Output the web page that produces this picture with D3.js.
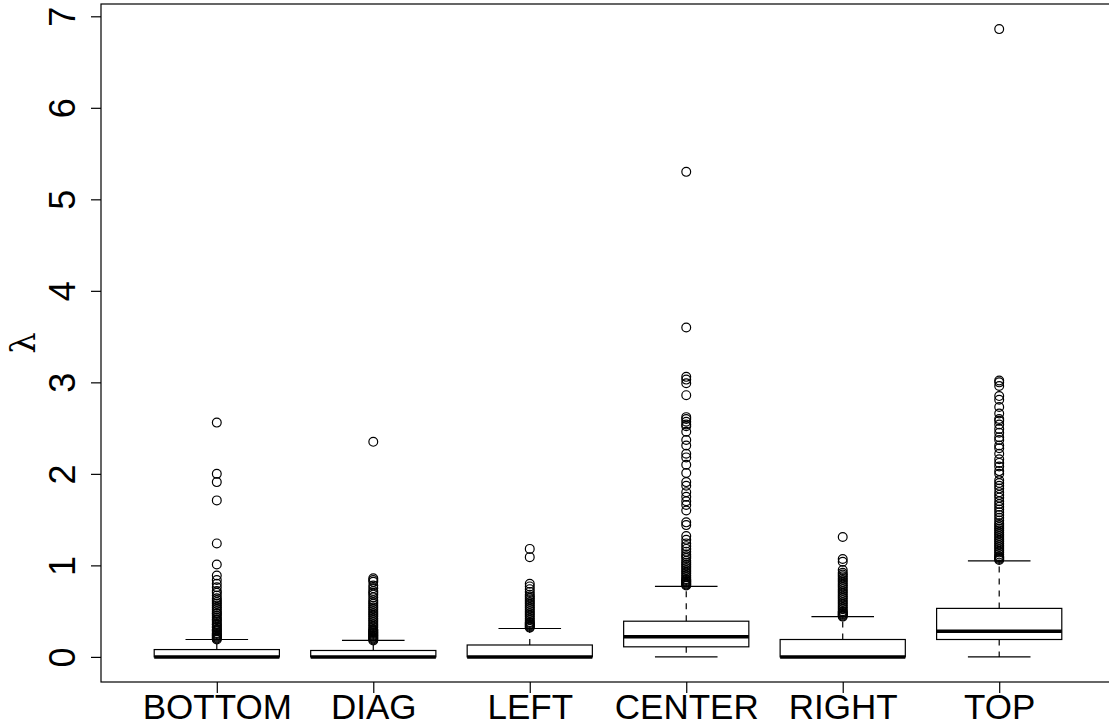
<!DOCTYPE html>
<html>
<head>
<meta charset="utf-8">
<script src="https://cdn.jsdelivr.net/npm/d3@7/dist/d3.min.js"></script>
<style>
  html, body { margin: 0; padding: 0; background: #fff; }
  svg { display: block; }
</style>
</head>
<body>
<script>
// ---- data ----
const categories = ["BOTTOM", "DIAG", "LEFT", "CENTER", "RIGHT", "TOP"];
const lowerWhisker = [0, 0, 0, 0, 0, 0];
const q1 = [0, 0, 0, 0.11, 0, 0.19];
const median = [0, 0, 0, 0.22, 0, 0.28];
const q3 = [0.08, 0.07, 0.13, 0.39, 0.19, 0.53];
const upperWhisker = [0.19, 0.18, 0.31, 0.77, 0.44, 1.05];

const outliersBottom = [2.56, 2.00, 1.91, 1.71, 1.24, 1.01, 0.89, 0.84, 0.80, 0.76, 0.72, 0.70, 0.67, 0.64, 0.62, 0.60, 0.58, 0.56, 0.54, 0.52, 0.50, 0.48, 0.47, 0.45, 0.43, 0.41, 0.40, 0.38, 0.36, 0.35, 0.33, 0.32, 0.30, 0.29, 0.28, 0.26, 0.25, 0.24, 0.23, 0.22, 0.21, 0.20, 0.19];
const outliersDiag = [2.35, 0.86, 0.84, 0.82, 0.78, 0.75, 0.72, 0.70, 0.68, 0.65, 0.62, 0.60, 0.58, 0.56, 0.54, 0.52, 0.50, 0.48, 0.46, 0.44, 0.42, 0.40, 0.38, 0.36, 0.34, 0.32, 0.30, 0.29, 0.28, 0.27, 0.26, 0.25, 0.24, 0.23, 0.22, 0.21, 0.20, 0.19, 0.18];
const outliersLeft = [1.18, 1.09, 0.80, 0.77, 0.74, 0.71, 0.68, 0.66, 0.64, 0.62, 0.60, 0.58, 0.56, 0.54, 0.52, 0.50, 0.48, 0.46, 0.44, 0.42, 0.40, 0.38, 0.37, 0.36, 0.35, 0.34, 0.33, 0.32];
const outliersCenter = [5.30, 3.60, 3.06, 3.03, 2.99, 2.86, 2.62, 2.60, 2.57, 2.54, 2.52, 2.46, 2.37, 2.31, 2.22, 2.18, 2.10, 2.01, 1.91, 1.87, 1.80, 1.75, 1.70, 1.66, 1.60, 1.47, 1.44, 1.32, 1.28, 1.24, 1.21, 1.18, 1.15, 1.12, 1.10, 1.08, 1.05, 1.03, 1.01, 0.99, 0.97, 0.95, 0.93, 0.91, 0.89, 0.87, 0.85, 0.84, 0.83, 0.82, 0.81, 0.80, 0.79, 0.78];
const outliersRight = [1.31, 1.07, 1.04, 0.95, 0.92, 0.90, 0.88, 0.86, 0.84, 0.82, 0.80, 0.78, 0.76, 0.74, 0.72, 0.70, 0.68, 0.66, 0.64, 0.62, 0.60, 0.58, 0.56, 0.54, 0.52, 0.50, 0.49, 0.48, 0.47, 0.46, 0.45, 0.44];
const outliersTop = [6.86, 3.02, 3.00, 2.96, 2.85, 2.81, 2.73, 2.66, 2.60, 2.58, 2.54, 2.49, 2.45, 2.40, 2.37, 2.31, 2.28, 2.22, 2.16, 2.12, 2.08, 2.03, 2.00, 1.93, 1.90, 1.87, 1.84, 1.80, 1.77, 1.74, 1.70, 1.67, 1.64, 1.61, 1.58, 1.55, 1.52, 1.49, 1.46, 1.44, 1.42, 1.40, 1.38, 1.36, 1.34, 1.32, 1.30, 1.28, 1.26, 1.24, 1.22, 1.20, 1.18, 1.16, 1.14, 1.12, 1.10, 1.09, 1.08, 1.07, 1.06];
const outliers = [outliersBottom, outliersDiag, outliersLeft, outliersCenter, outliersRight, outliersTop];

const yTicks = [0, 1, 2, 3, 4, 5, 6, 7];
const yLabel = "λ";

// ---- layout ----
const W = 1109, H = 727;
const plot = { left: 101, right: 1115, top: 4, bottom: 682 };
const FONT = "'Liberation Sans', Arial, Helvetica, sans-serif";

const svg = d3.select("body").append("svg")
  .attr("width", W).attr("height", H)
  .style("font-family", FONT);

svg.append("rect").attr("width", W).attr("height", H).attr("fill", "#fff");

const x = d3.scaleLinear().domain([0.26, 6.74]).range([plot.left, plot.right]);
const y = d3.scaleLinear().domain([-0.2744, 7.1344]).range([plot.bottom, plot.top]);

const boxHalf = 0.4;     // box width 0.8
const stapleHalf = 0.2;  // staple width 0.4

const groups = categories.map((c, i) => ({
  name: c, pos: i + 1,
  lw: lowerWhisker[i], q1: q1[i], med: median[i], q3: q3[i], uw: upperWhisker[i],
  out: outliers[i]
}));

const g = svg.append("g");

// whiskers (dashed)
g.selectAll("line.wu").data(groups).join("line")
  .attr("x1", d => x(d.pos)).attr("x2", d => x(d.pos))
  .attr("y1", d => y(d.q3)).attr("y2", d => y(d.uw))
  .attr("stroke", "#000").attr("stroke-width", 1.2).attr("stroke-dasharray", "6,6");
g.selectAll("line.wl").data(groups).join("line")
  .attr("x1", d => x(d.pos)).attr("x2", d => x(d.pos))
  .attr("y1", d => y(d.q1)).attr("y2", d => y(d.lw))
  .attr("stroke", "#000").attr("stroke-width", 1.2).attr("stroke-dasharray", "6,6");

// staples
["uw", "lw"].forEach(k => {
  g.selectAll("line.s" + k).data(groups).join("line")
    .attr("x1", d => x(d.pos - stapleHalf)).attr("x2", d => x(d.pos + stapleHalf))
    .attr("y1", d => y(d[k])).attr("y2", d => y(d[k]))
    .attr("stroke", "#000").attr("stroke-width", 1.2);
});

// boxes
g.selectAll("rect.box").data(groups).join("rect")
  .attr("x", d => x(d.pos - boxHalf))
  .attr("width", d => x(d.pos + boxHalf) - x(d.pos - boxHalf))
  .attr("y", d => y(d.q3))
  .attr("height", d => y(d.q1) - y(d.q3))
  .attr("fill", "#fff").attr("stroke", "#000").attr("stroke-width", 1.2);

// medians
g.selectAll("line.med").data(groups).join("line")
  .attr("x1", d => x(d.pos - boxHalf)).attr("x2", d => x(d.pos + boxHalf))
  .attr("y1", d => y(d.med)).attr("y2", d => y(d.med))
  .attr("stroke", "#000").attr("stroke-width", 3.5);

// outliers
groups.forEach(d => {
  g.selectAll(null).data(d.out).join("circle")
    .attr("cx", x(d.pos)).attr("cy", v => y(v)).attr("r", 4.4)
    .attr("fill", "none").attr("stroke", "#000").attr("stroke-width", 1.2);
});

// frame
svg.append("rect")
  .attr("x", plot.left).attr("y", plot.top)
  .attr("width", plot.right - plot.left).attr("height", plot.bottom - plot.top)
  .attr("fill", "none").attr("stroke", "#000").attr("stroke-width", 1.2);

// y axis
const yAxis = svg.append("g").attr("transform", `translate(${plot.left},0)`)
  .call(d3.axisLeft(y).tickValues(yTicks).tickFormat(d3.format("d")).tickSize(10).tickSizeOuter(0));
yAxis.select(".domain").remove();
yAxis.selectAll(".tick line").attr("stroke", "#000").attr("stroke-width", 1.2);
yAxis.selectAll(".tick text")
  .attr("transform", "rotate(-90)")
  .attr("x", 0).attr("y", -26).attr("dy", 0)
  .attr("text-anchor", "middle")
  .attr("fill", "#000")
  .style("font-size", "36px").style("font-family", FONT);

// x axis
const xAxis = svg.append("g").attr("transform", `translate(0,${plot.bottom})`)
  .call(d3.axisBottom(x).tickValues(groups.map(d => d.pos))
    .tickFormat(p => categories[p - 1]).tickSize(11).tickSizeOuter(0));
xAxis.select(".domain").remove();
xAxis.selectAll(".tick line").attr("stroke", "#000").attr("stroke-width", 1.2);
xAxis.selectAll(".tick text")
  .attr("y", 37).attr("dy", 0)
  .attr("fill", "#000")
  .style("font-size", "35px").style("font-family", FONT);

// y label
svg.append("text")
  .attr("transform", `translate(35,${(plot.top + plot.bottom) / 2}) rotate(-90)`)
  .attr("text-anchor", "middle")
  .style("font-family", "'DejaVu Serif', 'Liberation Serif', serif")
  .style("font-size", "34px")
  .text(yLabel);
</script>
</body>
</html>
